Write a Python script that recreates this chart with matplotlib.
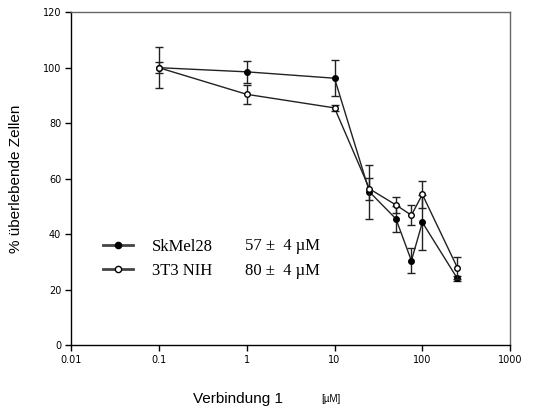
import matplotlib
matplotlib.use("Agg")
import matplotlib.pyplot as plt
from matplotlib.lines import Line2D

# Concentrations of Verbindung 1 (µM)
conc = [0.1, 1, 10, 25, 50, 75, 100, 250]

# Survival (% of control) and standard deviations
skmel_mean = [100, 98.5, 96.2, 55.2, 45.5, 30.4, 44.2, 24.0]
skmel_err = [7.3, 4.0, 6.5, 9.8, 4.6, 4.4, 10.0, 0.8]
nih_mean = [100, 90.4, 85.5, 56.3, 50.5, 46.8, 54.3, 27.9]
nih_err = [2.0, 3.4, 1.0, 4.0, 2.8, 3.5, 4.8, 4.0]

series_names = ["SkMel28", "3T3 NIH"]
ic50_values = ["57 \u00b1  4 \u00b5M", "80 \u00b1  4 \u00b5M"]

x_ticks = [0.01, 0.1, 1, 10, 100, 1000]
x_tick_labels = ["0.01", "0.1", "1", "10", "100", "1000"]
y_ticks = [0, 20, 40, 60, 80, 100, 120]

fig = plt.figure(figsize=(5.54, 4.17), dpi=100)
ax = fig.add_axes([0.128, 0.1727, 0.793, 0.798])

line_col = "#222222"
ax.errorbar(conc, skmel_mean, yerr=skmel_err, color=line_col, lw=1.0,
            marker="o", ms=4, mfc="black", mec="black", capsize=3.2,
            elinewidth=1.0, capthick=1.0, zorder=3)
ax.errorbar(conc, nih_mean, yerr=nih_err, color=line_col, lw=1.0,
            marker="o", ms=4, mfc="white", mec="black", capsize=3.2,
            elinewidth=1.0, capthick=1.0, zorder=4)

ax.set_xscale("log")
ax.set_xlim(0.01, 1000)
ax.set_ylim(0, 120)
ax.set_xticks(x_ticks)
ax.set_xticklabels(x_tick_labels)
ax.minorticks_off()
ax.set_yticks(y_ticks)
ax.tick_params(axis="both", direction="out", length=4, width=1,
               labelsize=7, pad=3)
for sp in ax.spines.values():
    sp.set_linewidth(1.0)
ax.spines["top"].set_color("#666666")
ax.spines["right"].set_color("#666666")

ax.set_ylabel("% \u00fcberlebende Zellen", fontsize=11, family="Liberation Sans",
              labelpad=14)

fig.text(238 / 554, 1 - 399 / 417, "Verbindung 1", fontsize=11,
         family="Liberation Sans", ha="center", va="center")
fig.text(331 / 554, 1 - 399 / 417, "[\u00b5M]", fontsize=7,
         family="Liberation Sans", ha="center", va="center")

handles = [
    Line2D([], [], color="#444444", lw=2.0, marker="o", ms=4.5,
           mfc="black", mec="black"),
    Line2D([], [], color="#444444", lw=2.0, marker="o", ms=4.5,
           mfc="white", mec="black"),
]
leg = ax.legend(handles, series_names, loc="upper left",
                bbox_to_anchor=(0.04, 0.365), frameon=False,
                prop={"family": "Liberation Serif", "size": 12},
                handlelength=1.8, handletextpad=1.1, labelspacing=0.5)

for i, txt in enumerate(ic50_values):
    ax.text(0.396, 0.298 - i * 0.075, txt, transform=ax.transAxes,
            fontsize=12, family="Liberation Serif", va="center", ha="left")

fig.savefig("out.png", dpi=100)
